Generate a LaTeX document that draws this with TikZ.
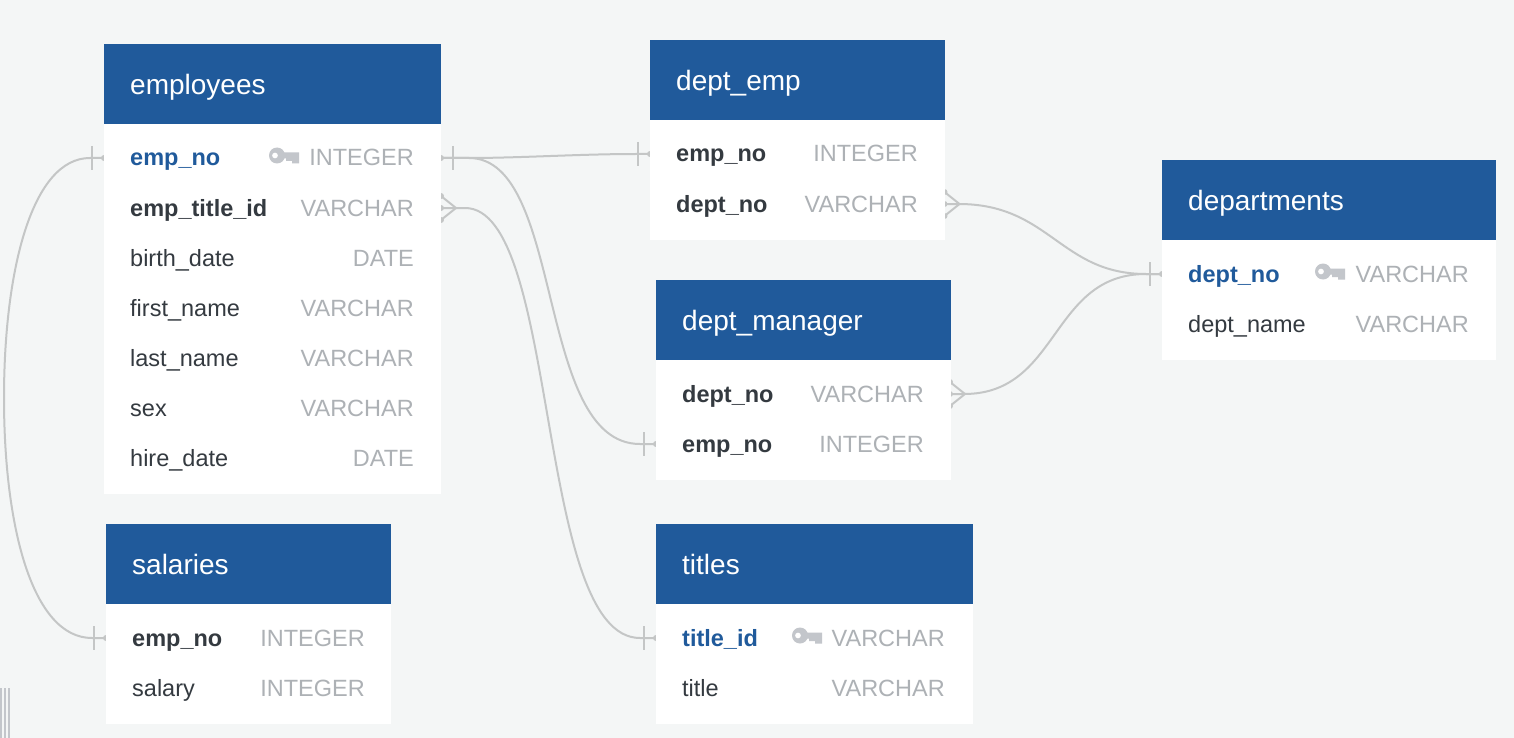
\documentclass[tikz,border=0pt]{standalone}
\usepackage{fontspec}
\setmainfont{Liberation Sans}
\definecolor{pagebg}{HTML}{F4F6F6}
\definecolor{headblue}{HTML}{205A9B}
\definecolor{darktext}{HTML}{343A40}
\definecolor{typegray}{HTML}{ADB1B5}
\definecolor{linegray}{HTML}{C4C6C6}
\definecolor{keygray}{HTML}{C3C6CB}
\tikzset{
    tablehead/.style={fill=headblue, text=white, anchor=north west, inner sep=0pt, inner xsep=26pt,
        align=left, text height=20pt, text depth=0pt, font=\fontsize{28}{32}\selectfont},
    tablebody/.style={fill=white, anchor=north west, inner sep=0pt},
    plainfield/.style={anchor=west, inner sep=0pt, text=darktext, text height=19pt, text depth=3pt,
        font=\fontsize{23.5}{28}\selectfont},
    boldfield/.style={plainfield, font=\fontsize{23.5}{28}\selectfont\bfseries},
    keyfield/.style={boldfield, text=headblue},
    typefield/.style={plainfield, anchor=east, text=typegray},
    pin/.style={circle, fill=linegray, inner sep=0pt, minimum size=6pt},
    rel/.style={draw=linegray, line width=2pt},
}
\newcommand{\dbhead}[6]{%
    \node [tablebody, minimum width=#4pt, minimum height=#5pt] (#1 body) at (#2, #3) {};
    \node [tablehead, minimum height=80pt, text width=#4pt-52pt] (#1) at (#2, #3) {#6};
}
\begin{document}
\begin{tikzpicture}[x=1pt, y=-1pt]
    \fill [pagebg] (0, 0) rectangle (1514, 738);
    \useasboundingbox (0, 0) rectangle (1514, 738);

    % pins on the table edges
    \node [pin] (emp left) at (104, 158) {};
    \node [pin] (emp right) at (441, 158) {};
    \node [pin] (title right) at (441, 208) {};
    \node [pin] (salaries left) at (106, 638) {};
    \node [pin] (deptemp left) at (650, 154) {};
    \node [pin] (deptemp right) at (944.5, 204) {};
    \node [pin] (manager right) at (950, 394) {};
    \node [pin] (manager left) at (656, 444) {};
    \node [pin] (titles left) at (656, 638) {};
    \node [pin] (departments left) at (1162, 274) {};

    % connectors
    \draw [rel] (emp left.center) -- +(-14, 0) .. controls +(-58, 0) and (4, 270) .. (4, 398)
        .. controls (4, 526) and (32, 638) .. (92, 638) -- (salaries left.center);
    \draw [rel] (emp right.center) -- +(28, 0) .. controls (520, 158) and (580, 154) .. (636, 154)
        -- (deptemp left.center);
    \draw [rel] (emp right.center) -- +(28, 0) .. controls (565, 158) and (535, 444) .. (640, 444)
        -- (manager left.center);
    \draw [rel] (title right.center) -- +(24, 0) .. controls (560, 208) and (535, 638) .. (640, 638)
        -- (titles left.center);
    \draw [rel] (deptemp right.center) -- +(14, 0) .. controls (1050, 204) and (1060, 274) .. (1146, 274)
        -- (departments left.center);
    \draw [rel] (manager right.center) -- +(14, 0) .. controls (1060, 394) and (1050, 274) .. (1146, 274)
        -- (departments left.center);

    % one marks
    \foreach \p/\dx in {emp left/-12, salaries left/-12, emp right/12, deptemp left/-12,
        manager left/-12, titles left/-12, departments left/-12} {
        \draw [rel] ([xshift=\dx pt, yshift=12pt]\p.center) -- ([xshift=\dx pt, yshift=-12pt]\p.center);
    }
    % many marks
    \foreach \p in {title right, deptemp right, manager right} {
        \draw [rel] ([xshift=15pt]\p.center) -- ([yshift=12pt]\p.center);
        \draw [rel] ([xshift=15pt]\p.center) -- ([yshift=-12pt]\p.center);
        \fill [linegray] ([yshift=12pt]\p.center) circle (3) ([yshift=-12pt]\p.center) circle (3);
    }

    % tables
    \dbhead{employees}{104}{44}{337}{450}{employees}
    \foreach \fname/\fstyle/\ftype [count=\i] in {
        emp\_no/keyfield/INTEGER, emp\_title\_id/boldfield/VARCHAR, birth\_date/plainfield/DATE,
        first\_name/plainfield/VARCHAR, last\_name/plainfield/VARCHAR, sex/plainfield/VARCHAR,
        hire\_date/plainfield/DATE} {
        \node [\fstyle] (employees name \i) at (130, 108+\i*50) {\fname};
        \node [typefield] (employees type \i) at (414, 108+\i*50) {\ftype};
    }
    \dbhead{salaries}{106}{524}{285}{200}{salaries}
    \foreach \fname/\fstyle/\ftype [count=\i] in {
        emp\_no/boldfield/INTEGER, salary/plainfield/INTEGER} {
        \node [\fstyle] (salaries name \i) at (132, 588+\i*50) {\fname};
        \node [typefield] (salaries type \i) at (365, 588+\i*50) {\ftype};
    }
    \dbhead{deptemp}{650}{40}{294.5}{200}{dept\_emp}
    \foreach \fname/\fstyle/\ftype [count=\i] in {
        emp\_no/boldfield/INTEGER, dept\_no/boldfield/VARCHAR} {
        \node [\fstyle] (deptemp name \i) at (676, 104+\i*50) {\fname};
        \node [typefield] (deptemp type \i) at (918, 104+\i*50) {\ftype};
    }
    \dbhead{deptmanager}{656}{280}{294.5}{200}{dept\_manager}
    \foreach \fname/\fstyle/\ftype [count=\i] in {
        dept\_no/boldfield/VARCHAR, emp\_no/boldfield/INTEGER} {
        \node [\fstyle] (deptmanager name \i) at (682, 344+\i*50) {\fname};
        \node [typefield] (deptmanager type \i) at (924, 344+\i*50) {\ftype};
    }
    \dbhead{titles}{656}{524}{317}{200}{titles}
    \foreach \fname/\fstyle/\ftype [count=\i] in {
        title\_id/keyfield/VARCHAR, title/plainfield/VARCHAR} {
        \node [\fstyle] (titles name \i) at (682, 588+\i*50) {\fname};
        \node [typefield] (titles type \i) at (945, 588+\i*50) {\ftype};
    }
    \dbhead{departments}{1162}{160}{334}{200}{departments}
    \foreach \fname/\fstyle/\ftype [count=\i] in {
        dept\_no/keyfield/VARCHAR, dept\_name/plainfield/VARCHAR} {
        \node [\fstyle] (departments name \i) at (1188, 224+\i*50) {\fname};
        \node [typefield] (departments type \i) at (1469, 224+\i*50) {\ftype};
    }

    % key icons
    \foreach \kx/\ky in {269/155.5, 792/635.5, 1315/271.5} {
        \begin{scope}[shift={(\kx, \ky)}]
            \fill [keygray, even odd rule] (8, 0) circle (8) (6, 0) circle (3);
            \fill [keygray] (13, -3) -- (30, -3) -- (30, 8) -- (23, 8) -- (23, 5.5) -- (17, 5.5)
                -- (17, 3) -- (13, 3) -- cycle;
        \end{scope}
    }

    % marks in the corner
    \foreach \sx in {0, 4, 8} {
        \fill [keygray] (\sx, 688) rectangle (\sx+2.2, 738);
    }
\end{tikzpicture}
\end{document}
